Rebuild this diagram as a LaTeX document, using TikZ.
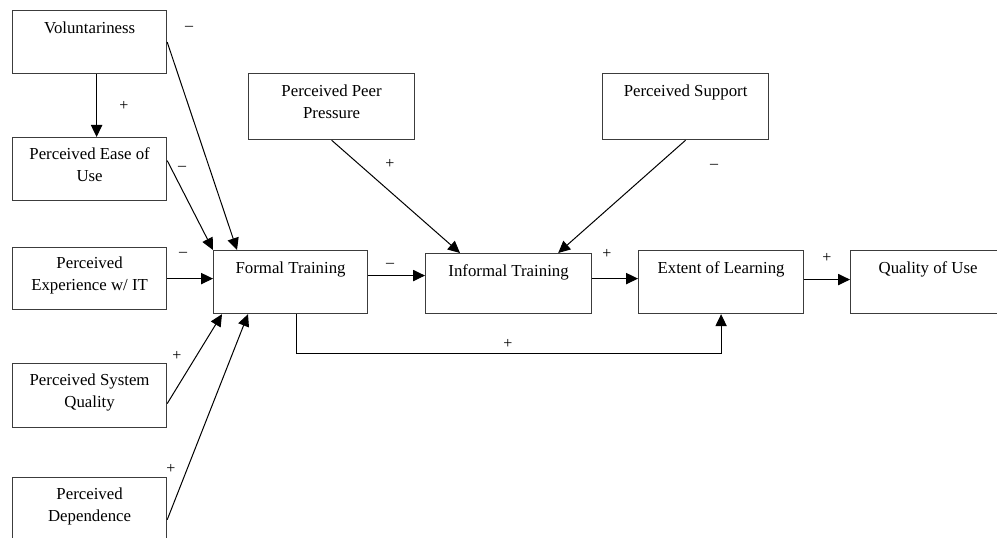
\documentclass[tikz,border=0pt]{standalone}
\usepackage{fontspec}
\setmainfont{Liberation Serif}
\usetikzlibrary{positioning,arrows.meta}

\tikzset{every picture/.style={line width=0.75pt}}
\tikzset{
  factor/.style={draw={rgb, 255:red, 60; green, 60; blue, 60 }, line width=0.9pt, anchor=north west, inner sep=0pt, minimum width=115.5pt, minimum height=47.25pt},
  wide/.style={minimum width=124.5pt},
  txt/.style={align=center, inner sep=0pt, font=\fontsize{12.6}{16.5}\selectfont},
  sign/.style={inner sep=0pt, font=\fontsize{12}{14}\selectfont},
  arr/.style={-{Triangle[length=9pt,width=8.5pt]}, line width=0.75pt}
}

\begin{document}
\begin{tikzpicture}[x=0.75pt,y=0.75pt,yscale=-1,xscale=1]
\useasboundingbox (0,0) rectangle (997,538);

%Shape: Rectangle [left column]
\node[factor] (vol) at (12,10) {};
\node[factor] (ease) at (12,137) {};
\node[factor, minimum height=46.5pt] (exp) at (12,247) {};
\node[factor, minimum height=48pt] (sysq) at (12,363) {};
\node[factor] (dep) at (12,477) {};
%Shape: Rectangle [middle row]
\node[factor] (formal) at (213,250) {};
\node[factor, wide, minimum height=49.5pt] (peer) at (248,73) {};
\node[factor, wide, minimum height=49.5pt] (supp) at (602,73) {};
\node[factor, wide, minimum height=45pt] (informal) at (425,253) {};
\node[factor, minimum width=123.75pt] (extent) at (638,250) {};
\node[factor, minimum width=116.25pt] (quality) at (850,250) {};

% Text Node
\node[txt, below=8.6pt of vol.north] (vol-t) {Voluntariness};
\node[txt, below=7.9pt of ease.north] (ease-t) {Perceived Ease of\\Use};
\node[txt, below=7.2pt of exp.north] (exp-t) {Perceived\\Experience w/ IT};
\node[txt, below=7.9pt of sysq.north] (sysq-t) {Perceived System\\Quality};
\node[txt, below=7.9pt of dep.north] (dep-t) {Perceived\\Dependence};
\node[txt, below=8.6pt of formal.north] (formal-t) {Formal Training};
\node[txt, below=8.6pt of peer.north] (peer-t) {Perceived Peer\\Pressure};
\node[txt, below=8.6pt of supp.north] (supp-t) {Perceived Support};
\node[txt, below=8.6pt of informal.north] (informal-t) {Informal Training};
\node[txt, below=8.6pt of extent.north] (extent-t) {Extent of Learning};
\node[txt, below=8.6pt of quality.north] (quality-t) {Quality of Use};

%Straight Lines [into Formal Training]
\draw[arr] ([xshift=5.25pt]vol.south) -- ([xshift=5.25pt]ease.north);
\draw[arr] (vol.east) -- ([xshift=18pt]formal.north west);
\draw[arr] ([yshift=-6.4pt]ease.east) -- (formal.north west);
\draw[arr] (exp.east) -- (exp.east -| formal.west);
\draw[arr] ([yshift=6pt]sysq.east) -- ([xshift=6.75pt]formal.south west);
\draw[arr] ([yshift=8pt]dep.east) -- ([xshift=26.25pt]formal.south west);
%Straight Lines [into Informal Training]
\draw[arr] (peer.south) -- ([xshift=26.25pt]informal.north west);
\draw[arr] (supp.south) -- ([xshift=-25.5pt]informal.north east);
%Straight Lines [main chain]
\coordinate (fi) at ([yshift=-4.9pt]formal.east);
\draw[arr] (fi) -- (fi -| informal.west);
\coordinate (ie) at ([yshift=-3.75pt]informal.east);
\draw[arr] (ie) -- (ie -| extent.west);
\coordinate (eq) at ([yshift=-1.9pt]extent.east);
\draw[arr] (eq) -- (eq -| quality.west);
%Straight Lines [Formal Training to Extent of Learning]
\draw[arr] ([xshift=4.5pt]formal.south) -- ++(0,39) -| (extent.south);

% Text Node [signs]
\node[sign] (s-ve) at (124,106) {+};
\node[sign] (s-vf) at (189,28) {–};
\node[sign] (s-ef) at (182,168) {–};
\node[sign] (s-xf) at (183,254) {–};
\node[sign] (s-sf) at (177,356) {+};
\node[sign] (s-df) at (171,469) {+};
\node[sign] (s-pi) at (390,164) {+};
\node[sign] (s-si) at (714,166) {–};
\node[sign] (s-fi) at (390,265) {–};
\node[sign] (s-ie) at (607,254) {+};
\node[sign] (s-eq) at (827,258) {+};
\node[sign] (s-fe) at (508,344) {+};

\end{tikzpicture}
\end{document}
